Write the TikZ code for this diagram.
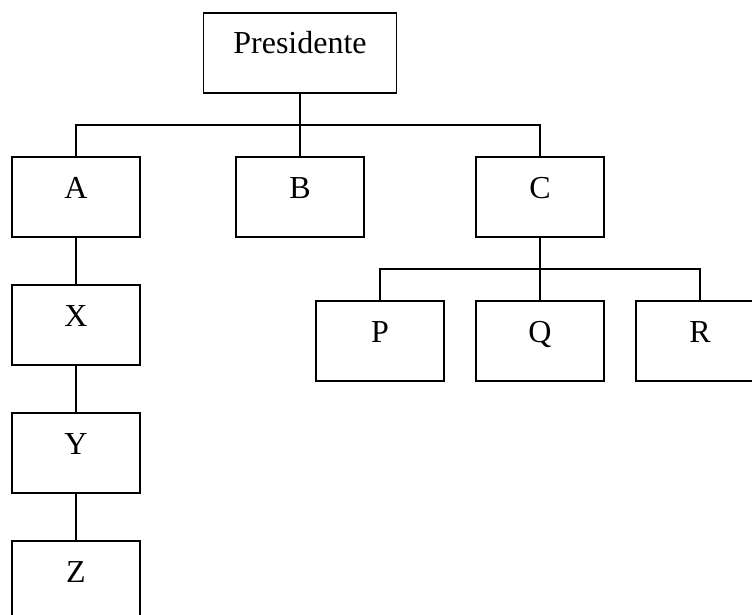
\documentclass[tikz,border=0pt]{standalone}
\usepackage{fontspec}
\setmainfont{Liberation Serif}
\begin{document}
\begin{tikzpicture}[x=1pt,y=1pt,
  box/.style={draw, line width=1.5pt, minimum width=128pt, minimum height=80pt, inner sep=0pt,
    text height=12pt, text depth=10pt, font=\fontsize{32}{38}\selectfont},
  conn/.style={line width=1.5pt}]
\useasboundingbox (0,0) rectangle (752,-615);
\clip (0,0) rectangle (752,-615);
\node[box, minimum width=193pt] (pres) at (300,-53) {Presidente};
\node[box] (a) at (76,-197) {A};
\node[box] (x) at (76,-325) {X};
\node[box] (y) at (76,-453) {Y};
\node[box] (z) at (76,-581) {Z};
\node[box] (b) at (300,-197) {B};
\node[box] (c) at (540,-197) {C};
\node[box] (p) at (380,-341) {P};
\node[box] (q) at (540,-341) {Q};
\node[box] (r) at (700,-341) {R};
\coordinate (bar1) at (300,-125);
\coordinate (bar2) at (540,-269);
\draw[conn] (pres.south) -- (b.north);
\draw[conn] (a.north) |- (bar1) -| (c.north);
\draw[conn] (c.south) -- (q.north);
\draw[conn] (p.north) |- (bar2) -| (r.north);
\draw[conn] (a.south) -- (x.north);
\draw[conn] (x.south) -- (y.north);
\draw[conn] (y.south) -- (z.north);
\end{tikzpicture}
\end{document}
